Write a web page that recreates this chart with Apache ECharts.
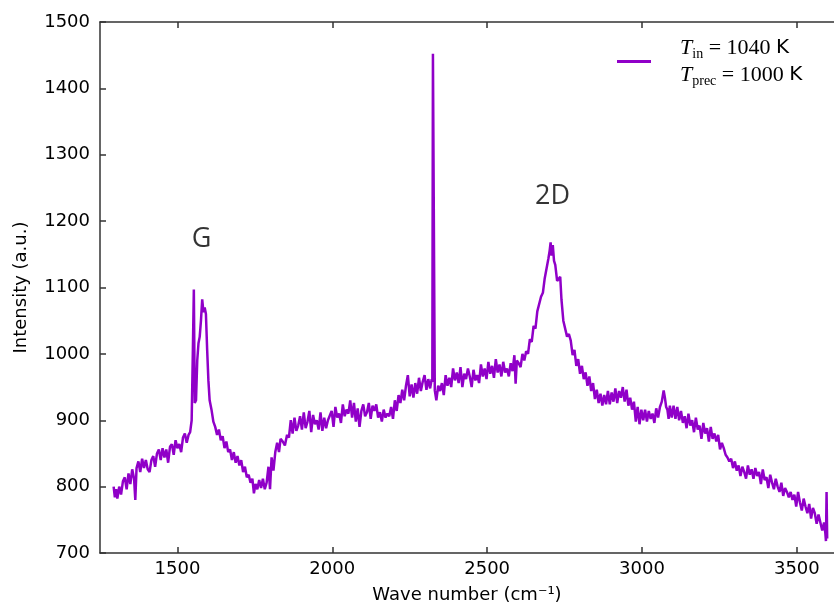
<!DOCTYPE html>
<html><head><meta charset="utf-8">
<script src="https://cdn.jsdelivr.net/npm/echarts@6/dist/echarts.min.js"></script>
<style>html,body{margin:0;padding:0;background:#fff}#c{width:834px;height:611px}</style>
</head><body><div id="c"></div>
<script>
// Raman spectrum
const wavenumber = [
1294,1298,1302,1306,1312,1318,1324,1330,1336,1342,1348,1354,1360,1364,1368,1374,1380,1386,1392,1398,
1404,1410,1416,1422,1428,1434,1440,1446,1452,1458,1464,1470,1476,1482,1488,1494,1500,1506,1512,1518,
1524,1530,1536,1541,1546,1550,1553,1556,1560,1564,1568,1572,1576,1580,1584,1588,1592,1596,1600,1604,
1610,1616,1622,1628,1634,1640,1646,1652,1658,1664,1670,1676,1682,1688,1694,1700,1706,1712,1718,1724,
1730,1736,1742,1747,1752,1758,1764,1770,1776,1782,1788,1794,1799,1804,1810,1816,1822,1828,1833,1840,
1847,1854,1860,1866,1872,1878,1884,1890,1896,1902,1908,1914,1920,1926,1932,1938,1944,1950,1956,1962,
1968,1974,1980,1986,1992,1998,2004,2010,2016,2022,2028,2034,2040,2046,2052,2058,2064,2070,2076,2082,
2088,2094,2100,2106,2112,2118,2124,2130,2136,2142,2148,2154,2160,2166,2172,2178,2184,2190,2196,2202,
2208,2214,2220,2226,2232,2238,2244,2250,2256,2262,2268,2274,2280,2286,2292,2298,2304,2310,2316,2321,
2323,2325,2328,2331,2336,2342,2348,2354,2360,2366,2372,2378,2384,2390,2396,2402,2408,2414,2420,2426,
2432,2438,2444,2450,2456,2462,2468,2474,2480,2486,2492,2498,2504,2510,2516,2522,2528,2534,2540,2546,
2552,2558,2564,2570,2576,2582,2588,2592,2596,2602,2608,2614,2620,2626,2632,2638,2644,2650,2656,2662,
2668,2674,2680,2686,2692,2698,2702,2705,2708,2712,2716,2720,2726,2732,2736,2740,2746,2752,2758,2764,
2770,2776,2782,2788,2794,2800,2806,2812,2818,2824,2830,2836,2842,2848,2854,2860,2866,2872,2878,2884,
2890,2896,2902,2908,2914,2920,2926,2932,2938,2944,2950,2956,2962,2968,2974,2980,2986,2992,2998,3004,
3010,3016,3022,3028,3034,3040,3046,3052,3058,3064,3070,3074,3078,3082,3086,3090,3096,3102,3108,3114,
3120,3126,3132,3138,3144,3150,3156,3162,3168,3174,3180,3186,3192,3198,3204,3210,3216,3222,3228,3234,
3240,3246,3252,3258,3264,3270,3276,3282,3288,3294,3300,3306,3312,3318,3324,3330,3336,3342,3348,3354,
3360,3366,3372,3378,3384,3390,3396,3402,3408,3414,3420,3426,3432,3438,3444,3450,3456,3462,3468,3474,
3480,3486,3492,3498,3504,3510,3516,3522,3528,3534,3540,3546,3552,3558,3564,3570,3576,3582,3588,3592,
3594,3596,3598
];
const intensity = [
800,784,796,782,800,788,808,814,796,820,804,826,812,780,828,838,822,842,828,840,
826,822,840,846,830,850,856,840,858,844,856,836,860,864,848,870,858,864,852,874,
880,866,878,882,900,1010,1097,926,930,990,1016,1026,1050,1082,1063,1070,1060,1006,960,930,
916,898,890,878,886,870,876,858,868,852,856,840,852,836,846,832,840,822,830,814,
818,806,812,790,804,796,810,798,812,796,806,830,796,844,824,852,866,852,872,868,
862,878,874,900,880,904,884,892,906,886,912,888,898,914,882,908,894,900,886,912,
884,904,888,900,898,914,890,920,904,910,896,924,906,916,910,930,904,926,898,918,
890,914,924,906,912,926,902,922,914,924,904,912,898,916,904,910,906,920,902,930,
914,938,926,946,930,952,968,936,954,934,956,940,964,944,958,968,946,962,948,962,
958,1452,1454,945,930,952,944,956,938,968,952,964,950,978,960,972,956,980,950,970,
962,978,966,950,976,960,968,956,984,966,978,962,988,970,982,964,992,972,984,966,
988,972,978,966,986,974,998,955,990,986,980,1000,990,1004,1000,1022,1018,1042,1038,1064,
1066,1086,1092,1114,1116,1144,1156,1168,1148,1164,1140,1134,1110,1112,1116,1082,1050,1052,1026,1030,
1020,998,1006,982,992,970,982,962,972,952,966,944,956,932,946,926,940,922,938,924,
944,924,942,928,948,926,944,934,950,928,946,922,934,916,928,898,920,894,916,900,
916,898,914,902,910,896,918,904,920,928,945,934,920,916,902,922,904,922,902,920,
900,914,896,906,888,910,892,900,882,904,886,892,872,896,880,888,868,890,872,880,
868,878,856,866,858,848,844,838,842,828,838,824,832,816,830,822,812,832,818,826,
812,828,816,822,804,826,810,814,798,818,806,796,812,800,792,806,786,798,792,784,
792,780,788,770,792,776,764,782,770,760,774,752,768,760,744,758,746,734,746,730,
718,792,722
];
const xTicks = [1500, 2000, 2500, 3000, 3500];
const peakNames = ['G', '2D'];
const peakNamePos = [[1578, 1173], [2711, 1238]];

const spectrum = wavenumber.map((w, i) => [w, intensity[i]]);
const peakData = peakNamePos.map((p, i) => ({ value: p, name: peakNames[i] }));

const chart = echarts.init(document.getElementById('c'));
const axisLine = { show: true, lineStyle: { color: '#333', width: 1.5 } };
const plain = v => String(v);
chart.setOption({
  animation: false,
  textStyle: { fontFamily: 'DejaVu Sans' },
  grid: { left: 100, right: 0, top: 22, bottom: 58, outerBoundsMode: 'none' },
  legend: {
    data: ['spectrum'],
    left: 612, top: 32,
    icon: 'rect', itemWidth: 34, itemHeight: 3, itemGap: 0,
    formatter: () => '{t|T}{s|in}{e| = 1040 }{k|K}\n{t|T}{s|prec}{e| = 1000 }{k|K}',
    textStyle: {
      rich: {
        t: { fontFamily: 'Liberation Serif', fontStyle: 'italic', fontSize: 22, lineHeight: 27, color: '#000', padding: [0, 0, 0, 24] },
        s: { fontFamily: 'Liberation Serif', fontSize: 14, lineHeight: 14, verticalAlign: 'bottom', color: '#000' },
        e: { fontFamily: 'Liberation Serif', fontSize: 22, lineHeight: 27, color: '#000' },
        k: { fontFamily: 'DejaVu Sans', fontSize: 20, lineHeight: 27, color: '#000' }
      }
    }
  },
  xAxis: [{
    type: 'value', min: 1250, max: 3620,
    name: 'Wave number (cm\u207B\u00B9)', nameLocation: 'middle', nameGap: 33,
    nameTextStyle: { fontSize: 18, color: '#000' },
    axisLine: axisLine,
    axisTick: { inside: true, length: 6, customValues: xTicks, lineStyle: { color: '#333', width: 1.5 } },
    axisLabel: { customValues: xTicks, formatter: plain, fontSize: 18, color: '#000', margin: 7 },
    splitLine: { show: false }
  }, {
    type: 'value', min: 1250, max: 3620, position: 'top',
    axisLine: axisLine,
    axisTick: { inside: true, length: 6, customValues: xTicks, lineStyle: { color: '#333', width: 1.5 } },
    axisLabel: { show: false },
    splitLine: { show: false }
  }],
  yAxis: {
    type: 'value', min: 700, max: 1500, interval: 100,
    name: 'Intensity (a.u.)', nameLocation: 'middle', nameGap: 70, nameRotate: 90,
    nameTextStyle: { fontSize: 18, color: '#000' },
    axisLine: axisLine,
    axisTick: { inside: true, length: 6, lineStyle: { color: '#333', width: 1.5 } },
    axisLabel: { formatter: plain, fontSize: 18, color: '#000', margin: 10 },
    splitLine: { show: false }
  },
  series: [{
    name: 'spectrum', type: 'line', data: spectrum, xAxisIndex: 0,
    showSymbol: false, symbol: 'none',
    lineStyle: { color: '#9000c8', width: 2.5 }, itemStyle: { color: '#9000c8' }
  }, {
    name: 'peaks', type: 'scatter', data: peakData, xAxisIndex: 0,
    symbolSize: 0,
    label: { show: true, position: 'inside', formatter: p => p.name, fontFamily: 'Open Sans', fontSize: 27, color: '#000' }
  }]
});
</script>
</body></html>
